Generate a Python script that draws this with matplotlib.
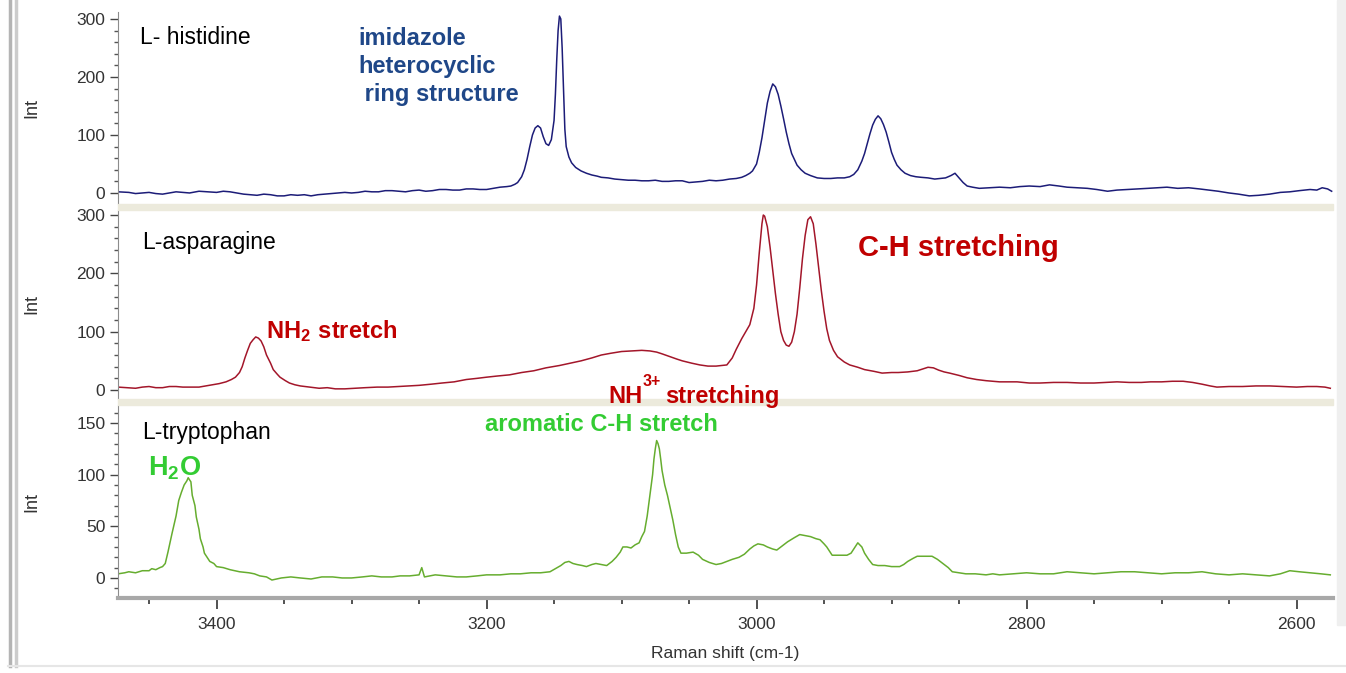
import matplotlib.pyplot as plt
from matplotlib.patches import Rectangle
from matplotlib.lines import Line2D
from matplotlib.ticker import MultipleLocator

# ---- data (Raman shift cm-1, intensity) ----
his_x = [3473, 3465, 3460, 3455, 3450, 3445, 3440, 3435, 3430, 3425, 3420, 3413, 3406, 3400,
         3395, 3390, 3385, 3380, 3375, 3370, 3365, 3360, 3355, 3350, 3345, 3340, 3335, 3330,
         3325, 3320, 3315, 3310, 3305, 3300, 3295, 3290, 3285, 3280, 3275, 3270, 3265, 3260,
         3255, 3250, 3245, 3240, 3235, 3230, 3225, 3220, 3215, 3210, 3205, 3200, 3195, 3190,
         3185, 3182, 3179, 3177, 3174, 3172, 3170, 3168, 3166, 3164, 3162, 3160, 3158, 3156,
         3154, 3152, 3150, 3149, 3148, 3147, 3146, 3145, 3144, 3143, 3142, 3141, 3139, 3137,
         3134, 3130, 3126, 3122, 3118, 3115, 3110, 3105, 3100, 3095, 3090, 3085, 3080, 3075,
         3070, 3065, 3060, 3055, 3050, 3045, 3040, 3035, 3030, 3025, 3020, 3015, 3011, 3008,
         3005, 3003, 3000, 2998, 2996, 2994, 2992, 2990, 2988, 2986, 2984, 2982, 2980, 2978,
         2976, 2974, 2972, 2970, 2967, 2964, 2960, 2955, 2950, 2945, 2940, 2935, 2931, 2928,
         2925, 2922, 2920, 2918, 2916, 2914, 2912, 2910, 2908, 2906, 2904, 2902, 2900, 2898,
         2896, 2893, 2890, 2886, 2882, 2878, 2873, 2868, 2864, 2860, 2856, 2853, 2850, 2847,
         2844, 2840, 2835, 2828, 2820, 2812, 2805, 2798, 2790, 2783, 2776, 2770, 2762, 2755,
         2748, 2740, 2733, 2725, 2718, 2710, 2703, 2696, 2688, 2680, 2672, 2665, 2658, 2650,
         2643, 2635, 2628, 2620, 2612, 2605, 2598, 2590, 2585, 2581, 2577, 2574]
his_y = [2, 1, -1, 0, 1, -1, -2, 0, 2, 1, 0, 3, 2, 1,
         3, 2, 0, -2, -3, -4, -2, -3, -5, -5, -3, -4, -3, -5,
         -3, -2, -1, 0, 1, 0, 1, 3, 2, 2, 4, 4, 3, 2,
         4, 5, 3, 4, 6, 6, 5, 5, 7, 7, 6, 6, 8, 10,
         11, 12, 15, 18, 28, 40, 58, 80, 100, 112, 116, 112, 97, 85,
         82, 92, 125, 170, 230, 280, 305, 300, 250, 180, 110, 80, 62, 52,
         44, 38, 34, 31, 29, 27, 26, 24, 23, 22, 22, 21, 21, 22,
         20, 20, 21, 21, 18, 19, 20, 22, 21, 22, 24, 25, 27, 30,
         34, 38, 50, 70, 95, 125, 155, 175, 188, 183, 170, 150, 128, 105,
         85, 68, 58, 48, 40, 34, 30, 26, 25, 25, 26, 26, 28, 32,
         40, 55, 68, 85, 102, 117, 127, 133, 128, 118, 105, 88, 70, 58,
         48, 40, 34, 30, 28, 27, 26, 24, 25, 26, 30, 34, 26, 18,
         12, 10, 8, 9, 10, 9, 11, 12, 11, 14, 12, 10, 9, 8,
         6, 3, 5, 6, 7, 8, 9, 10, 8, 9, 7, 5, 3, 0,
         -2, -5, -4, -2, 1, 2, 4, 6, 5, 9, 7, 3]

asn_x = [3473, 3466, 3460, 3455, 3450, 3445, 3440, 3435, 3430, 3425, 3420, 3413, 3408, 3403,
         3398, 3393, 3389, 3386, 3383, 3381, 3379, 3377, 3375, 3373, 3371, 3369, 3367, 3365,
         3363, 3360, 3358, 3355, 3353, 3349, 3346, 3342, 3338, 3331, 3324, 3318, 3312, 3305,
         3298, 3290, 3281, 3273, 3265, 3257, 3250, 3241, 3233, 3224, 3215, 3207, 3200, 3192,
         3183, 3174, 3165, 3156, 3146, 3138, 3130, 3122, 3115, 3108, 3100, 3093, 3085, 3079,
         3074, 3070, 3064, 3059, 3055, 3048, 3042, 3036, 3030, 3026, 3022, 3018, 3015, 3011,
         3008, 3005, 3002, 3000, 2998, 2996, 2995, 2994, 2992, 2990, 2988, 2986, 2984, 2982,
         2980, 2978, 2976, 2974, 2972, 2970, 2968, 2966, 2964, 2962, 2960, 2958, 2956, 2954,
         2952, 2950, 2948, 2946, 2943, 2940, 2935, 2931, 2925, 2920, 2913, 2907, 2900, 2895,
         2888, 2881, 2877, 2873, 2869, 2865, 2861, 2857, 2850, 2844, 2837, 2830, 2820, 2807,
         2798, 2790, 2780, 2770, 2760, 2750, 2742, 2733, 2724, 2715, 2708, 2700, 2692, 2684,
         2677, 2670, 2664, 2659, 2650, 2640, 2630, 2620, 2610, 2600, 2592, 2585, 2579, 2575]
asn_y = [5, 4, 3, 5, 6, 4, 4, 6, 6, 5, 5, 5, 7, 9,
         11, 14, 18, 22, 30, 40, 55, 68, 80, 86, 91, 89, 84, 74,
         60, 46, 35, 27, 22, 16, 12, 9, 7, 5, 3, 4, 2, 2,
         3, 4, 5, 5, 6, 7, 8, 10, 12, 14, 18, 20, 22, 24,
         26, 30, 33, 38, 42, 46, 50, 55, 60, 63, 66, 67, 68, 67,
         65, 62, 57, 53, 50, 46, 43, 41, 41, 42, 43, 55, 70, 88,
         100, 112, 140, 180, 235, 285, 300, 298, 280, 245, 205, 165, 130, 100,
         85, 77, 75, 82, 100, 130, 175, 225, 265, 292, 297, 285, 250, 210,
         170, 135, 105, 85, 68, 57, 48, 43, 39, 35, 32, 29, 30, 30,
         31, 33, 36, 39, 38, 34, 31, 29, 25, 21, 18, 16, 14, 14,
         12, 12, 13, 13, 12, 12, 13, 14, 13, 13, 14, 14, 15, 15,
         13, 10, 7, 5, 6, 6, 7, 7, 6, 5, 6, 6, 5, 3]

trp_x = [3473, 3468, 3465, 3460, 3455, 3450, 3448, 3445, 3442, 3440, 3438, 3436, 3433, 3430,
         3428, 3426, 3424, 3422, 3421, 3419, 3418, 3416, 3415, 3413, 3412, 3410, 3409, 3407,
         3405, 3402, 3400, 3395, 3390, 3383, 3376, 3372, 3368, 3363, 3359, 3352, 3345, 3338,
         3330, 3322, 3314, 3307, 3300, 3292, 3285, 3278, 3270, 3264, 3257, 3250, 3248, 3246,
         3238, 3230, 3222, 3215, 3207, 3200, 3190, 3182, 3175, 3167, 3160, 3153, 3149, 3145,
         3142, 3139, 3136, 3133, 3129, 3126, 3122, 3119, 3115, 3111, 3107, 3104, 3101, 3099,
         3096, 3093, 3090, 3087, 3085, 3083, 3081, 3079, 3077, 3076, 3075, 3074, 3073, 3072,
         3071, 3070, 3068, 3066, 3064, 3062, 3060, 3058, 3056, 3052, 3047, 3043, 3040, 3035,
         3030, 3026, 3022, 3018, 3013, 3009, 3005, 3002, 2999, 2995, 2992, 2988, 2985, 2981,
         2977, 2972, 2968, 2964, 2960, 2956, 2953, 2950, 2948, 2946, 2944, 2938, 2933, 2930,
         2928, 2925, 2922, 2920, 2917, 2914, 2910, 2905, 2900, 2894, 2891, 2888, 2884, 2881,
         2876, 2870, 2866, 2862, 2858, 2855, 2850, 2845, 2838, 2830, 2825, 2820, 2810, 2800,
         2790, 2780, 2770, 2760, 2750, 2740, 2730, 2720, 2710, 2700, 2690, 2680, 2670, 2660,
         2650, 2640, 2630, 2620, 2612, 2605, 2598, 2590, 2582, 2575]
trp_y = [4, 5, 6, 5, 7, 7, 9, 8, 10, 11, 14, 25, 43, 60,
         75, 83, 90, 94, 97, 93, 80, 70, 59, 47, 38, 30, 24, 20,
         16, 14, 11, 10, 8, 6, 5, 4, 2, 1, -2, 0, 1, 0,
         -1, 1, 1, 0, 0, 1, 2, 1, 1, 2, 2, 3, 10, 1,
         3, 2, 1, 1, 2, 3, 3, 4, 4, 5, 5, 6, 9, 12,
         15, 16, 14, 13, 12, 11, 13, 14, 13, 12, 16, 20, 25, 30,
         30, 29, 32, 34, 40, 45, 60, 80, 100, 115, 125, 133, 130, 125,
         115, 104, 90, 80, 68, 56, 42, 30, 24, 24, 25, 22, 18, 15,
         13, 14, 16, 18, 20, 23, 28, 31, 33, 32, 30, 28, 27, 31,
         35, 39, 42, 41, 40, 38, 37, 33, 30, 26, 22, 22, 22, 24,
         28, 34, 30, 24, 18, 13, 12, 12, 11, 11, 13, 16, 19, 21,
         21, 21, 18, 14, 10, 6, 5, 4, 4, 3, 4, 3, 4, 5,
         4, 4, 6, 5, 4, 5, 6, 6, 5, 4, 5, 5, 6, 4,
         3, 4, 3, 2, 4, 7, 6, 5, 4, 3]

names = ["L- histidine", "L-asparagine", "L-tryptophan"]
colors = ["#1c1c78", "#a3162a", "#66ad2f"]

plt.rcParams['font.family'] = ['Liberation Sans', 'DejaVu Sans']
plt.rcParams['mathtext.fontset'] = 'custom'
plt.rcParams['mathtext.rm'] = 'Liberation Sans'
plt.rcParams['mathtext.bf'] = 'Liberation Sans:bold'

W, H = 1346, 673
fig = plt.figure(figsize=(W / 100, H / 100), dpi=100)
fig.patch.set_facecolor('white')


def fx(px):
    return px / W


def fy(py):
    return 1 - py / H


x_left, x_right = 118, 1333
# (top px, bottom px, ylim, major step, minor step)
panels = [(12, 204, (-19, 312), 100, 20),
          (210, 399, (-15.4, 308.6), 100, 20),
          (405, 598, (-19.4, 167.4), 50, 10)]
series = [(his_x, his_y), (asn_x, asn_y), (trp_x, trp_y)]

axes = []
for i, (top, bot, ylim, major, minor) in enumerate(panels):
    ax = fig.add_axes([fx(x_left), fy(bot), fx(x_right) - fx(x_left), (bot - top) / H])
    xs, ys = series[i]
    ax.plot(xs, ys, color=colors[i], lw=1.1)
    ax.set_xlim(3473, 2573)
    ax.set_ylim(*ylim)
    ax.yaxis.set_major_locator(MultipleLocator(major))
    ax.yaxis.set_minor_locator(MultipleLocator(minor))
    for s in ['top', 'right']:
        ax.spines[s].set_visible(False)
    ax.spines['left'].set_color('#8c8c8c')
    ax.tick_params(axis='y', which='major', length=6, width=1, color='#444444',
                   labelsize=12.5, labelcolor='#333333', pad=3)
    ax.tick_params(axis='y', which='minor', length=3, width=1, color='#555555')
    ax.set_ylabel('Int', fontsize=13, color='#333333')
    ax.yaxis.set_label_coords((40 - x_left) / (x_right - x_left), 0.5)
    if i < 2:
        ax.spines['bottom'].set_visible(False)
        ax.tick_params(axis='x', which='both', bottom=False, labelbottom=False)
    else:
        ax.spines['bottom'].set_color('#a8a8a8')
        ax.spines['bottom'].set_linewidth(3)
        ax.xaxis.set_major_locator(MultipleLocator(200))
        ax.xaxis.set_minor_locator(MultipleLocator(50))
        ax.tick_params(axis='x', which='major', length=8, width=1.2, color='#333333',
                       labelsize=12.5, labelcolor='#333333', pad=6)
        ax.tick_params(axis='x', which='minor', length=4, width=1.2, color='#333333')
        ax.set_xlabel('Raman shift (cm-1)', fontsize=12.5, color='#333333')
        ax.xaxis.set_label_coords(0.5, -(646 - 598) / (598 - 405))
    axes.append(ax)

# panel separators and window frame
for top, bot in [(204, 210), (399, 405)]:
    fig.add_artist(Rectangle((fx(x_left), fy(bot)), fx(x_right) - fx(x_left), (bot - top) / H,
                             transform=fig.transFigure, color='#eceadc', zorder=5))
fig.add_artist(Rectangle((fx(1337), fy(625)), fx(1346) - fx(1337), 625 / H,
                         transform=fig.transFigure, color='#efefef', zorder=5))
for px, c in [(10, '#b4b4b4'), (16, '#cccccc')]:
    fig.add_artist(Line2D([fx(px), fx(px)], [fy(0), fy(666)], transform=fig.transFigure,
                          color=c, lw=2.5))
fig.add_artist(Line2D([fx(8), fx(1346)], [fy(666), fy(666)], transform=fig.transFigure,
                      color='#e6e6e6', lw=1.5))

# sample names
fig.text(fx(140), fy(38), names[0], fontsize=16.5, va='center', ha='left')
fig.text(fx(142), fy(242), names[1], fontsize=16.5, va='center', ha='left')
fig.text(fx(142), fy(433), names[2], fontsize=16.5, va='center', ha='left')

# band annotations
red = '#c00000'
green = '#33cc33'
fig.text(fx(358), fy(27), "imidazole\nheterocyclic\n ring structure", fontsize=17,
         fontweight='bold', color='#1f4788', va='top', ha='left', linespacing=1.28)
fig.text(fx(858), fy(256), "C-H stretching", fontsize=21, fontweight='bold',
         color=red, va='baseline', ha='left')
fig.text(fx(266), fy(338), r'$\mathbf{NH_2\ stretch}$', fontsize=17,
         color=red, va='baseline', ha='left', zorder=10)
fig.text(fx(608), fy(403), "NH", fontsize=17, fontweight='bold',
         color=red, va='baseline', ha='left', zorder=10)
fig.text(fx(643), fy(386), "3+", fontsize=11.5, fontweight='bold',
         color=red, va='baseline', ha='left', zorder=10)
fig.text(fx(665), fy(403), "stretching", fontsize=17, fontweight='bold',
         color=red, va='baseline', ha='left', zorder=10)
fig.text(fx(485), fy(431), "aromatic C-H stretch", fontsize=17, fontweight='bold',
         color=green, va='baseline', ha='left', zorder=10)
fig.text(fx(148), fy(476), r'$\mathbf{H_2O}$', fontsize=19.5,
         color=green, va='baseline', ha='left', zorder=10)

fig.savefig('out.png', dpi=100, facecolor='white')
